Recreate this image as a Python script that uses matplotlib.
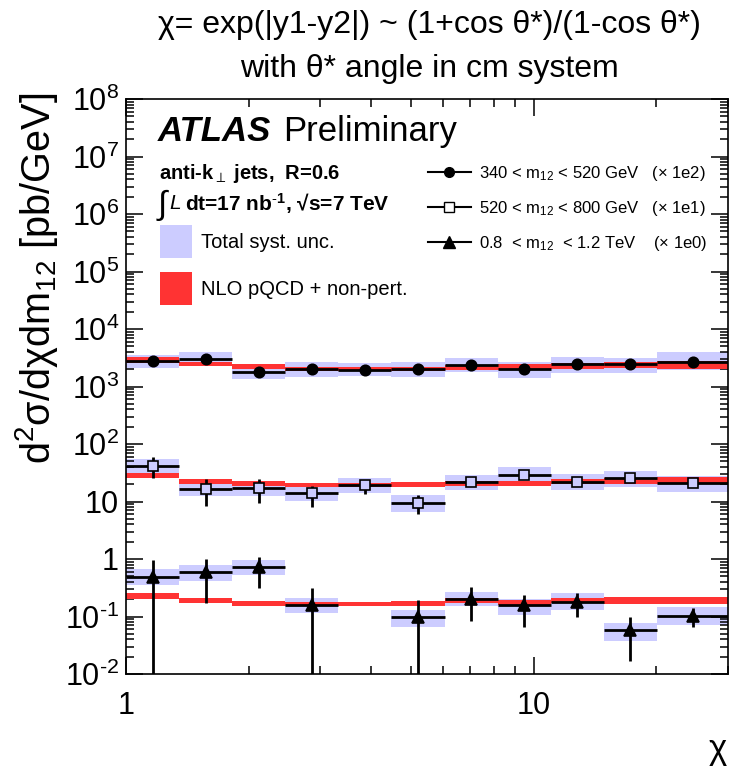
import numpy as np
import matplotlib
matplotlib.use('Agg')
from matplotlib import pyplot as plt
from matplotlib import ticker
from matplotlib.lines import Line2D
from matplotlib.patches import Patch

plt.rcParams['font.family'] = ['Liberation Sans', 'DejaVu Sans']
plt.rcParams['mathtext.fontset'] = 'custom'
plt.rcParams['mathtext.rm'] = 'Liberation Sans'
plt.rcParams['mathtext.it'] = 'Liberation Sans:italic'
plt.rcParams['mathtext.bf'] = 'Liberation Sans:bold'
plt.rcParams['axes.unicode_minus'] = False

# chi bin edges
edges = np.array([1.0, 1.35, 1.82, 2.46, 3.32, 4.48, 6.05, 8.17, 11.02, 14.88, 20.09, 30.0])

# 340 < m12 < 520 GeV (x 1e2)
y1 = [2780, 3000, 1790, 1990, 1940, 2040, 2390, 2020, 2460, 2430, 2700]
y1_hi = [2900, 3130, 1880, 2080, 2030, 2130, 2490, 2110, 2570, 2540, 2820]
y1_lo = [2660, 2870, 1700, 1900, 1850, 1950, 2290, 1930, 2350, 2320, 2580]
syst1_hi = [3530, 3930, 2430, 2630, 2600, 2700, 3090, 2700, 3215, 3130, 3930]
syst1_lo = [2070, 2300, 1335, 1480, 1500, 1480, 1810, 1390, 1690, 1740, 1935]
theo1 = [2890, 2460, 2210, 2015, 2015, 2015, 2155, 2210, 2275, 2335, 2365]

# 520 < m12 < 800 GeV (x 1e1)
y2 = [42, 16.5, 16.9, 13.9, 19.4, 9.6, 22.2, 28.9, 21.8, 26.0, 20.7]
y2_hi = [58.6, 24.3, 24.6, 18.8, 22.8, 13.0, 24.0, 30.5, 23.0, 27.5, 22.0]
y2_lo = [25.4, 8.45, 9.55, 8.1, 13.3, 6.0, 20.0, 27.5, 20.5, 24.5, 19.5]
syst2_hi = [54.8, 21.6, 21.6, 18.1, 25.3, 13.0, 28.9, 39.3, 29.9, 33.9, 28.1]
syst2_lo = [31.7, 12.5, 12.6, 10.2, 13.9, 6.65, 15.8, 20.7, 15.8, 18.1, 14.8]
theo2 = [28.1, 22.1, 20.7, 19.4, 19.4, 19.8, 20.7, 20.7, 22.4, 23.0, 23.0]

# 0.8 < m12 < 1.2 TeV (x 1e0), no measurement in 5th bin
y3 = [0.49, 0.59, 0.72, 0.158, np.nan, 0.097, 0.20, 0.158, 0.18, 0.058, 0.104]
y3_hi = [0.96, 0.99, 1.1, 0.31, np.nan, 0.19, 0.32, 0.237, 0.26, 0.097, 0.14]
y3_lo = [1e-3, 0.17, 0.31, 1e-3, np.nan, 1e-3, 0.085, 0.065, 0.10, 0.0166, 0.065]
syst3_hi = [0.662, 0.787, 0.962, 0.213, np.nan, 0.130, 0.270, 0.199, 0.253, 0.078, 0.148]
syst3_lo = [0.353, 0.42, 0.527, 0.116, np.nan, 0.0666, 0.152, 0.106, 0.130, 0.0375, 0.071]
theo3 = [0.227, 0.19, 0.17, 0.165, 0.165, 0.167, 0.19, 0.175, 0.19, 0.19, 0.19]

# relative theory uncertainty (width of red band)
theo_unc = [0.11, 0.10, 0.10, 0.10, 0.10, 0.10, 0.11, 0.12, 0.12, 0.13, 0.16]

labels = ["340 < m$_{12}$ < 520 GeV   (× 1e2)",
          "520 < m$_{12}$ < 800 GeV   (× 1e1)",
          "0.8  < m$_{12}$  < 1.2 TeV    (× 1e0)"]
markers = ['o', 's', '^']

SYST_COL = '#ccccff'
THEO_COL = '#ff3333'

fig = plt.figure(figsize=(7.36, 7.73), dpi=100)
ax = fig.add_axes([126/736, 1-674/773, (728-126)/736, (674-99)/773])
ax.set_xscale('log')
ax.set_yscale('log')

left = edges[:-1]
width = np.diff(edges)
centers = np.sqrt(edges[:-1]*edges[1:])
unc = np.array(theo_unc)

series = [(y1, y1_lo, y1_hi, syst1_lo, syst1_hi, theo1),
          (y2, y2_lo, y2_hi, syst2_lo, syst2_hi, theo2),
          (y3, y3_lo, y3_hi, syst3_lo, syst3_hi, theo3)]

for (y, ylo, yhi, slo, shi, th), mk in zip(series, markers):
    y, ylo, yhi = np.array(y), np.array(ylo), np.array(yhi)
    slo, shi, th = np.array(slo), np.array(shi), np.array(th)
    ok = ~np.isnan(y)
    ax.bar(left[ok], (shi-slo)[ok], bottom=slo[ok], width=width[ok], align='edge',
           color=SYST_COL, linewidth=0, zorder=1)
    tlo = th/(1+unc)
    thi = th*(1+unc)
    ax.bar(left, thi-tlo, bottom=tlo, width=width, align='edge',
           color=THEO_COL, linewidth=0, zorder=2)
    ax.errorbar(centers[ok], y[ok],
                xerr=[(centers-left)[ok], (edges[1:]-centers)[ok]],
                yerr=[(y-ylo)[ok], (yhi-y)[ok]],
                fmt=mk, color='black', ecolor='black', elinewidth=2, capsize=0,
                ms=8.5 if mk == '^' else 7.5,
                mfc=SYST_COL if mk == 's' else 'black', mec='black', mew=1.2,
                zorder=3)

ax.set_xlim(1, 30)
ax.set_ylim(1e-2, 1e8)

def ylab(v, pos):
    if v == 1:
        return '1'
    if v == 10:
        return '10'
    n = int(round(np.log10(v)))
    if n < 0:
        return r'$10^{\text{-}%d}$' % (-n)
    return r'$10^{%d}$' % n

ax.yaxis.set_major_locator(ticker.LogLocator(base=10, numticks=20))
ax.yaxis.set_minor_locator(ticker.LogLocator(base=10, subs=np.arange(2, 10), numticks=20))
ax.yaxis.set_major_formatter(ticker.FuncFormatter(ylab))
ax.yaxis.set_minor_formatter(ticker.NullFormatter())
ax.xaxis.set_major_locator(ticker.FixedLocator([1, 10]))
ax.xaxis.set_major_formatter(ticker.FixedFormatter(['1', '10']))
ax.xaxis.set_minor_locator(ticker.LogLocator(base=10, subs=np.arange(2, 10), numticks=20))
ax.xaxis.set_minor_formatter(ticker.NullFormatter())

ax.tick_params(which='both', direction='in', top=True, right=True, width=1.1)
ax.tick_params(which='major', length=12, labelsize=22)
ax.tick_params(which='minor', length=6)
ax.tick_params(axis='x', which='major', pad=12)
ax.tick_params(axis='y', which='major', pad=5)
for s in ax.spines.values():
    s.set_linewidth(1.2)

fig.text(429/736, 1-25/773, "χ= exp(|y1-y2|) ~ (1+cos θ*)/(1-cos θ*)",
         ha='center', va='center', fontsize=23)
fig.text(429/736, 1-69/773, "with θ* angle in cm system",
         ha='center', va='center', fontsize=23)
fig.text(37/736, 1-93/773, "d$^{2}$σ/dχdm$_{12}$ [pb/GeV]", rotation=90,
         ha='center', va='top', fontsize=28.5)
fig.text(718/736, 1-750/773, "χ", ha='center', va='center', fontsize=25)

ax.text(0.052, 0.943, "ATLAS", transform=ax.transAxes, fontsize=25,
        fontweight='bold', fontstyle='italic', va='center')
ax.text(0.261, 0.943, "Preliminary", transform=ax.transAxes, fontsize=25, va='center')
ax.text(0.055, 0.871, "anti-k$_{\\perp}$ jets,  R=0.6", transform=ax.transAxes,
        fontsize=14.5, fontweight='bold', va='center')
ax.text(0.052, 0.815, "∫", transform=ax.transAxes, fontsize=24, va='center')
ax.text(0.072, 0.818, "L", transform=ax.transAxes, fontsize=15,
        fontstyle='italic', va='center')
ax.text(0.098, 0.818, "dt=17 nb$^{\\mathbf{\\text{-}1}}$, √s=7 TeV", transform=ax.transAxes,
        fontsize=15, fontweight='bold', va='center')

h1 = [Line2D([], [], color='black', lw=1.5, marker=m,
             ms=8 if m == '^' else 7,
             mfc='white' if m == 's' else 'black', mec='black') for m in markers]
leg1 = ax.legend(h1, labels, loc='upper left', bbox_to_anchor=(0.49, 0.898),
                 frameon=False, fontsize=12, labelspacing=0.95,
                 handlelength=2.6, handletextpad=0.5, borderaxespad=0)
ax.add_artist(leg1)

h2 = [Patch(facecolor=SYST_COL, edgecolor='none'),
      Patch(facecolor=THEO_COL, edgecolor='none')]
ax.legend(h2, ["Total syst. unc.", "NLO pQCD + non-pert."], loc='upper left',
          bbox_to_anchor=(0.0565, 0.781), frameon=False, fontsize=14.5,
          handlelength=1.6, handleheight=2.15, labelspacing=0.68,
          handletextpad=0.45, borderaxespad=0, borderpad=0)

fig.savefig('out.png', dpi=100)
